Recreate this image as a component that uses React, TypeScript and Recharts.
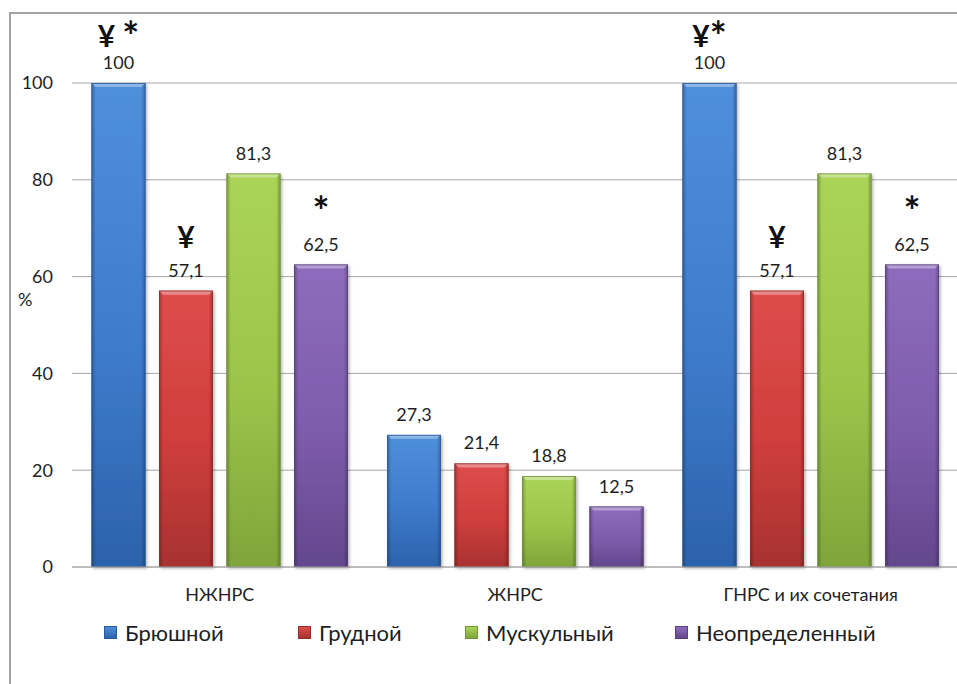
import React from 'react';
import { BarChart, Bar, XAxis, YAxis, CartesianGrid, Legend, LabelList } from 'recharts';

// Share of each breathing type (%) by group
const categories = ['НЖНРС', 'ЖНРС', 'ГНРС и их сочетания'];
const abdominal = [100, 27.3, 100];
const thoracic = [57.1, 21.4, 57.1];
const muscular = [81.3, 18.8, 81.3];
const indefinite = [62.5, 12.5, 62.5];

const seriesNames = ['Брюшной', 'Грудной', 'Мускульный', 'Неопределенный'];

// Significance marks printed above the value labels
const abdominalMarks = ['¥ *', '', '¥*'];
const thoracicMarks = ['¥', '', '¥'];
const muscularMarks = ['', '', ''];
const indefiniteMarks = ['*', '', '*'];

const yTicks = [0, 20, 40, 60, 80, 100];

const seriesValues = [abdominal, thoracic, muscular, indefinite];
const seriesMarks = [abdominalMarks, thoracicMarks, muscularMarks, indefiniteMarks];

const rows = categories.map((name, i) => {
  const row: Record<string, string | number> = { name };
  seriesValues.forEach((vals, s) => {
    row[`s${s}`] = vals[i];
    row[`m${s}`] = seriesMarks[s][i];
  });
  return row;
});

const palette = [
  { top: '#4f8fdc', mid: '#3e7bcc', bottom: '#2c62ab', edge: '#2a5a9c' },
  { top: '#de4d4b', mid: '#cf3e3c', bottom: '#a83231', edge: '#952c2b' },
  { top: '#aad457', mid: '#9cc44a', bottom: '#7fa53a', edge: '#729434' },
  { top: '#8e6cbd', mid: '#7e5cac', bottom: '#63478c', edge: '#58407d' },
];

const FONT = 'Lato, "Open Sans", sans-serif';
const TEXT = '#1e1e1e';
const Y_MAX = 100;

const fmt = (v: number) => String(v).replace('.', ',');

const BevelBar = (props: any) => {
  const { x, y, width, height, idx } = props;
  if (!height || height <= 0) return null;
  const b = Math.min(4, width / 6, height / 2);
  const c = palette[idx];
  return (
    <g>
      <rect x={x} y={y} width={width} height={height} fill={`url(#vg${idx})`} filter="url(#barShadow)" />
      <rect x={x} y={y} width={width} height={height} fill="url(#sideShade)" />
      <polygon
        points={`${x},${y} ${x + width},${y} ${x + width - b},${y + b} ${x + b},${y + b}`}
        fill="rgba(255,255,255,0.35)"
      />
      <rect x={x + 0.4} y={y + 0.4} width={width - 0.8} height={height - 0.8} fill="none" stroke={c.edge} strokeWidth={0.8} />
    </g>
  );
};

const ValueLabel = (props: any) => {
  const { x, y, width, value } = props;
  return (
    <text x={x + width / 2} y={y - 14} textAnchor="middle" fontFamily={FONT} fontSize={18} fill={TEXT}>
      {fmt(value)}
    </text>
  );
};

// The asterisk is set larger and a little lower so it reads as heavy as the yen sign
const makeMarkLabel = (s: number) => (props: any) => {
  const { x, y, width, value, index } = props;
  if (!value) return null;
  const atTop = seriesValues[s][index] >= Y_MAX;
  const chars = String(value).split('');
  return (
    <text
      x={x + width / 2}
      y={y - (atTop ? 36 : 43)}
      textAnchor="middle"
      fontFamily={FONT}
      fontWeight={700}
      fontSize={30}
      fill="#111"
    >
      {chars.map((ch, k) =>
        ch === '*' ? (
          <tspan key={k} fontSize={40} dy={4}>
            {ch}
          </tspan>
        ) : (
          <tspan key={k}>{ch}</tspan>
        )
      )}
    </text>
  );
};

const legendStarts = [94, 288, 455, 665];

const LegendContent = () => (
  <div style={{ position: 'relative', height: 50, fontFamily: FONT, fontSize: 22, color: TEXT }}>
    {seriesNames.map((n, i) => (
      <div
        key={n}
        style={{ position: 'absolute', left: legendStarts[i], top: 0, height: 50, display: 'flex', alignItems: 'center', whiteSpace: 'nowrap' }}
      >
        <span
          style={{
            display: 'inline-block',
            width: 13,
            height: 13,
            marginRight: 8,
            background: `linear-gradient(to bottom, ${palette[i].top}, ${palette[i].bottom})`,
            border: `1px solid ${palette[i].edge}`,
            boxSizing: 'border-box',
          }}
        />
        <span>{n}</span>
      </div>
    ))}
  </div>
);

export default function App() {
  return (
    <div style={{ position: 'fixed', left: 0, top: 0, width: 957, height: 684, overflow: 'hidden', background: '#fff' }}>
      <div
        style={{
          position: 'absolute',
          left: 9,
          top: 12,
          width: 1200,
          height: 1200,
          borderLeft: '2px solid #a3a3a3',
          borderTop: '2px solid #a3a3a3',
        }}
      />
      <div style={{ position: 'absolute', left: 0, top: 0 }}>
        <BarChart
          width={970}
          height={684}
          data={rows}
          margin={{ top: 83, right: 11.5, left: 10, bottom: 27 }}
          barCategoryGap={19.5}
          barGap={13.5}
        >
          <defs>
            {palette.map((c, i) => (
              <linearGradient key={i} id={`vg${i}`} x1="0" y1="0" x2="0" y2="1">
                <stop offset="0%" stopColor={c.top} />
                <stop offset="55%" stopColor={c.mid} />
                <stop offset="100%" stopColor={c.bottom} />
              </linearGradient>
            ))}
            <linearGradient id="sideShade" x1="0" y1="0" x2="1" y2="0">
              <stop offset="0%" stopColor="#000" stopOpacity={0.28} />
              <stop offset="8%" stopColor="#000" stopOpacity={0} />
              <stop offset="92%" stopColor="#000" stopOpacity={0} />
              <stop offset="100%" stopColor="#000" stopOpacity={0.28} />
            </linearGradient>
            <filter id="barShadow" x="-20%" y="-5%" width="140%" height="115%">
              <feDropShadow dx={1.5} dy={1.5} stdDeviation={1.5} floodColor="#000" floodOpacity={0.3} />
            </filter>
          </defs>
          <CartesianGrid vertical={false} stroke="#a6a6a6" strokeWidth={1} />
          <XAxis
            dataKey="name"
            height={40}
            tickLine={false}
            tickSize={0}
            tickMargin={21}
            axisLine={{ stroke: '#a6a6a6' }}
            tick={{ fontFamily: FONT, fontSize: 18, fill: TEXT }}
            interval={0}
          />
          <YAxis
            width={62}
            domain={[0, Y_MAX]}
            ticks={yTicks}
            tickLine={false}
            tickSize={0}
            tickMargin={19}
            axisLine={false}
            tick={{ fontFamily: FONT, fontSize: 18, fill: TEXT }}
            label={{ value: '%', position: 'insideLeft', offset: 8, dy: -25, style: { fontFamily: FONT, fontSize: 18, fill: TEXT } }}
          />
          <Legend verticalAlign="bottom" content={() => <LegendContent />} />
          {seriesNames.map((n, s) => (
            <Bar
              key={n}
              dataKey={`s${s}`}
              name={n}
              fill={palette[s].mid}
              isAnimationActive={false}
              shape={(p: any) => <BevelBar {...p} idx={s} />}
            >
              <LabelList dataKey={`s${s}`} content={ValueLabel} />
              <LabelList dataKey={`m${s}`} content={makeMarkLabel(s)} />
            </Bar>
          ))}
        </BarChart>
      </div>
    </div>
  );
}
